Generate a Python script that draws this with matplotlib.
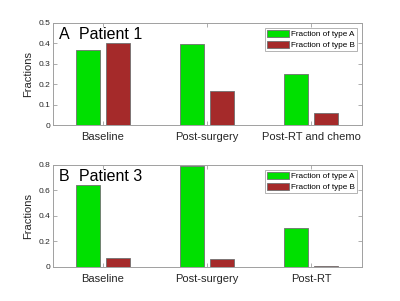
"""Fractions of type A and B per patient and timepoint."""

import numpy as np
import matplotlib.pyplot as plt

plt.rcParams['font.family'] = ['Liberation Sans', 'DejaVu Sans']

# Patient 1
p1_labels = ['Baseline', 'Post-surgery', 'Post-RT and chemo']
p1_type_a = [0.366, 0.397, 0.251]
p1_type_b = [0.402, 0.167, 0.060]

# Patient 3
p3_labels = ['Baseline', 'Post-surgery', 'Post-RT']
p3_type_a = [0.643, 0.792, 0.306]
p3_type_b = [0.073, 0.060, 0.008]

GREEN = '#00e000'
RED = '#a52a2a'
EDGE = '#707070'
AXC = '#a0a0a0'


def draw_panel(ax, labels, type_a, type_b, letter, title, ymax, yticks):
    x = np.arange(1, len(labels) + 1)
    w = 0.23
    ax.bar(x - 0.142, type_a, w, color=GREEN, edgecolor=EDGE, linewidth=0.6,
           label='Fraction of type A')
    ax.bar(x + 0.142, type_b, w, color=RED, edgecolor=EDGE, linewidth=0.6,
           label='Fraction of type B')
    ax.set_xlim(0.52, 3.49)
    ax.set_ylim(0, ymax)
    ax.set_xticks(x)
    ax.set_xticklabels(labels, fontsize=8, color='#262626')
    ax.set_yticks(yticks)
    ax.set_yticklabels(['0' if t == 0 else '%g' % t for t in yticks])
    ax.tick_params(axis='y', labelsize=6, labelcolor='#262626')
    ax.tick_params(direction='in', length=3, width=0.6, color=AXC,
                   top=True, right=True, labelright=False, labeltop=False, pad=2)
    ax.tick_params(axis='x', pad=5)
    for s in ax.spines.values():
        s.set_color(AXC)
        s.set_linewidth(0.7)
    ax.set_ylabel('Fractions', fontsize=8, color='#262626', labelpad=4)
    ax.text(0.018, 0.84, letter, transform=ax.transAxes, fontsize=11.5)
    ax.text(0.084, 0.84, title, transform=ax.transAxes, fontsize=11.5)
    leg = ax.legend(loc='upper right', fontsize=5.9, frameon=True, fancybox=False,
                    borderaxespad=0.6, handlelength=2.7, handleheight=1.0,
                    borderpad=0.25, labelspacing=0.3, handletextpad=0.3)
    leg.get_frame().set_edgecolor(AXC)
    leg.get_frame().set_linewidth(0.7)


fig = plt.figure(figsize=(4, 3.01), dpi=100)
ax1 = fig.add_axes([0.1325, 0.5847, 0.7725, 0.339])
ax2 = fig.add_axes([0.1325, 0.113, 0.7725, 0.339])

draw_panel(ax1, p1_labels, p1_type_a, p1_type_b, 'A', 'Patient 1', 0.5,
           [0, 0.1, 0.2, 0.3, 0.4, 0.5])
draw_panel(ax2, p3_labels, p3_type_a, p3_type_b, 'B', 'Patient 3', 0.8,
           [0, 0.2, 0.4, 0.6, 0.8])

fig.savefig('out.png', dpi=100)
